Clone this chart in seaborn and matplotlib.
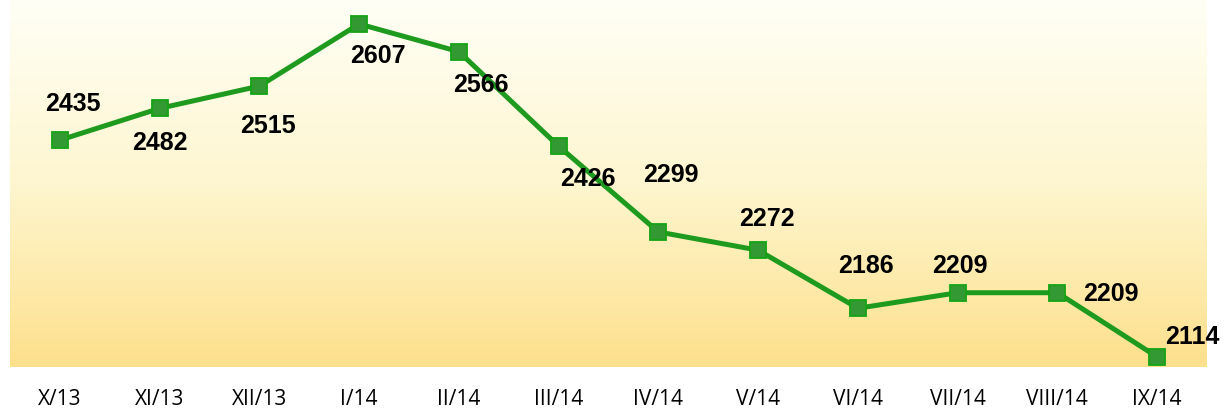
import numpy as np
import pandas as pd
import seaborn as sns
import matplotlib.pyplot as plt
from matplotlib.colors import LinearSegmentedColormap

months = ['X/13', 'XI/13', 'XII/13', 'I/14', 'II/14', 'III/14',
          'IV/14', 'V/14', 'VI/14', 'VII/14', 'VIII/14', 'IX/14']
values = [2435, 2482, 2515, 2607, 2566, 2426, 2299, 2272, 2186, 2209, 2209, 2114]
# label offsets in pixels (dx, dy) relative to each point
label_offsets = [(13, 36), (0, -35), (9, -40), (19, -32), (22, -33), (29, -33),
                 (13, 57), (9, 31), (8, 42), (2, 27), (54, -1), (35, 20)]

sns.set_style('white')
plt.rcParams['font.family'] = ['Liberation Sans', 'DejaVu Sans']

df = pd.DataFrame({'month': months, 'value': values})
df['x'] = range(len(months))

fig = plt.figure(figsize=(12.26, 4.11), dpi=100)
ax = fig.add_axes([10 / 1226, 44 / 411, 1197 / 1226, 367 / 411])

# gradient background
cmap = LinearSegmentedColormap.from_list('bg', ['#FFFFF6', '#FEF6D0', '#FDE08C'])
grad = np.linspace(0, 1, 256).reshape(-1, 1)
ax.imshow(grad, cmap=cmap, aspect='auto', extent=[0, 1, 0, 1],
          transform=ax.transAxes, zorder=0, origin='upper')

sns.lineplot(data=df, x='x', y='value', ax=ax, color='#1E9A1E', linewidth=3.6,
             marker='s', markersize=11, markerfacecolor='#339933',
             markeredgecolor='#14A314', markeredgewidth=1.3, zorder=3)

for (x, v, (dx, dy)) in zip(df['x'], values, label_offsets):
    ax.annotate(str(v), (x, v), xytext=(dx * 0.72, dy * 0.72), textcoords='offset points',
                ha='center', va='center', fontsize=18, fontweight='bold', color='black',
                zorder=4)

ax.set_xlim(-0.5, len(months) - 0.5)
ax.set_ylim(2099, 2642.5)
ax.set_xticks(df['x'])
ax.set_xticklabels(months, fontsize=15, color='black', family=['Open Sans', 'DejaVu Sans'])
ax.set_yticks([])
ax.set_xlabel('')
ax.set_ylabel('')
ax.tick_params(axis='x', length=0, pad=16)
for s in ax.spines.values():
    s.set_visible(False)

fig.savefig('out.png', dpi=100)
